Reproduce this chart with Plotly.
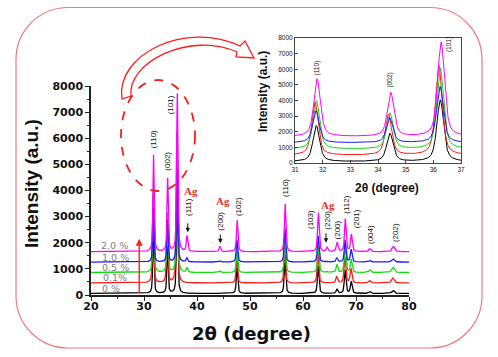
import numpy as np
import plotly.graph_objects as go

W, H = 498, 357

# ---------------- data ----------------
series_names = ["0 %", "0.1%", "0.5 %", "1.0 %", "2.0 %"]
series_colors = ["#000000", "#ff1a1a", "#14d914", "#1a1aff", "#ff00ff"]
baseline_offsets = [60, 460, 860, 1260, 1660]
series_shift = [0.0, -0.05, 0.0, -0.01, 0.03]

peak_positions = [31.77, 34.43, 36.25, 38.1, 44.3, 47.55, 56.6, 62.87, 64.5, 66.4, 67.95, 69.1, 72.6, 77.0]
peak_fwhm = [0.28, 0.28, 0.29, 0.32, 0.35, 0.32, 0.33, 0.35, 0.38, 0.38, 0.36, 0.38, 0.45, 0.55]
peak_heights = {
    "0 %":   [2300, 1800, 3950,   0,   0, 1030, 1300, 1050,   0, 150,  900, 450,  70, 120],
    "0.1%":  [3400, 2600, 5750,   0,   0, 1000, 1400, 1150,   0, 250, 1000, 550, 100, 190],
    "0.5 %": [3100, 2300, 5200, 180,  60,  900, 1300, 1050,  40, 300, 1000, 500, 100, 200],
    "1.0 %": [2050, 1600, 3600, 150,  50,  850, 1290, 1000,  30, 150,  850, 480,  60, 120],
    "2.0 %": [3700, 2800, 6050, 600, 200, 1210, 1840, 1490, 160, 350, 1250, 650, 110, 200],
}

main_peak_labels = [
    ("(110)", 31.75, 5970), ("(002)", 34.47, 5130), ("(101)", 34.95, 7270),
    ("(111)", 38.36, 3380), ("(200)", 44.53, 2806), ("(102)", 47.8, 3380),
    ("(110)", 56.74, 4083), ("(103)", 61.32, 2870), ("(220)", 64.46, 2870),
    ("(200)", 66.5, 2488), ("(112)", 68.06, 3445), ("(201)", 70.0, 2897),
    ("(004)", 72.64, 2335), ("(202)", 77.5, 2399),
]
ag_labels = [(38.81, 3981), (44.85, 3598), (64.65, 3445)]
ag_arrows = [(38.25, 2800, 2400), (44.4, 2373, 1979), (64.34, 2423, 2002)]
pct_labels = [("2.0 %", 24.4, 1887), ("1.0 %", 24.7, 1443), ("0.5 %", 24.7, 1045),
              ("0.1%", 24.5, 663), ("0 %", 23.8, 256)]
inset_peak_labels = [("(110)", 31.8, 6060), ("(002)", 34.45, 5312), ("(101)", 36.57, 7552)]


def profile(x, heights, shift, eta=0.6):
    y = np.zeros_like(x)
    for c, h, w in zip(peak_positions, heights, peak_fwhm):
        d = (x - c - shift) / w
        y += h * (eta / (1 + 4 * d ** 2) + (1 - eta) * np.exp(-4 * np.log(2) * d ** 2))
    return y


def P(px, py):
    return f"{px / W:.5f},{1 - py / H:.5f}"


fig = go.Figure()

x_main = np.arange(20, 80.0001, 0.02)
x_in = np.arange(31, 37.0001, 0.01)
for name, col, off, sh in zip(series_names, series_colors, baseline_offsets, series_shift):
    hts = peak_heights[name]
    fig.add_trace(go.Scatter(x=x_main, y=profile(x_main, hts, sh) + off, mode="lines",
                             line=dict(color=col, width=1.3), name=name,
                             xaxis="x", yaxis="y", showlegend=False))
    fig.add_trace(go.Scatter(x=x_in, y=profile(x_in, hts, sh) + off + 30, mode="lines",
                             line=dict(color=col, width=1), name=name,
                             xaxis="x2", yaxis="y2", showlegend=False))

ann = []
C = dict(xanchor="center", yanchor="middle")
for t, x, y in main_peak_labels:
    ann.append(dict(x=x, y=y, xref="x", yref="y", text=t, showarrow=False, textangle=-90,
                    font=dict(family="Liberation Sans", size=8, color="#111"), **C))
for x, y in ag_labels:
    ann.append(dict(x=x, y=y, xref="x", yref="y", text="<b>Ag</b>", showarrow=False,
                    font=dict(family="Liberation Serif", size=11, color="#e8302a"), **C))
for x, y0, y1 in ag_arrows:
    ann.append(dict(x=x, y=y1, ax=x, ay=y0, xref="x", yref="y", axref="x", ayref="y",
                    text="", showarrow=True, arrowhead=2, arrowsize=0.9, arrowwidth=1,
                    arrowcolor="#111"))
for t, x, y in pct_labels:
    ann.append(dict(x=x, y=y, xref="x", yref="y", text=t, showarrow=False,
                    font=dict(family="DejaVu Sans", size=9.5, color="#808080"), **C))
# red up arrow
ann.append(dict(x=29.1, y=2150, ax=29.1, ay=30, xref="x", yref="y", axref="x", ayref="y",
                text="", showarrow=True, arrowhead=2, arrowsize=1, arrowwidth=1.4,
                arrowcolor="#ff2020"))
for t, x, y in inset_peak_labels:
    ann.append(dict(x=x, y=y, xref="x2", yref="y2", text=t, showarrow=False, textangle=-90,
                    font=dict(family="Liberation Sans", size=6.5, color="#111"), **C))
# axis titles
ann.append(dict(x=32 / W, y=1 - 184 / H, xref="paper", yref="paper", text="<b>Intensity (a.u.)</b>",
                showarrow=False, textangle=-90, font=dict(family="Liberation Sans", size=19, color="#111"), **C))
ann.append(dict(x=252 / W, y=1 - 333 / H, xref="paper", yref="paper", text="<b>2θ (degree)</b>",
                showarrow=False, font=dict(family="DejaVu Sans", size=18, color="#111"), **C))
ann.append(dict(x=263 / W, y=1 - 92 / H, xref="paper", yref="paper", text="<b>Intensity (a.u.)</b>",
                showarrow=False, textangle=-90, font=dict(family="Liberation Sans", size=12, color="#111"), **C))
ann.append(dict(x=387 / W, y=1 - 188 / H, xref="paper", yref="paper", text="<b>2θ (degree)</b>",
                showarrow=False, font=dict(family="Liberation Sans", size=12, color="#111"), **C))

# decorative shapes
def rrect(l, t, r, b, rad):
    k = 0.5523 * rad
    return ("M" + P(l + rad, t) + " L" + P(r - rad, t) +
            " C" + P(r - rad + k, t) + " " + P(r, t + rad - k) + " " + P(r, t + rad) +
            " L" + P(r, b - rad) +
            " C" + P(r, b - rad + k) + " " + P(r - rad + k, b) + " " + P(r - rad, b) +
            " L" + P(l + rad, b) +
            " C" + P(l + rad - k, b) + " " + P(l, b - rad + k) + " " + P(l, b - rad) +
            " L" + P(l, t + rad) +
            " C" + P(l, t + rad - k) + " " + P(l + rad - k, t) + " " + P(l + rad, t) + " Z")

arrow_path = ("M" + P(122, 99) + " C" + P(115, 55) + " " + P(185, 20) + " " + P(240, 46) +
              " L" + P(245, 41) + " L" + P(254, 58) + " L" + P(236, 57) + " L" + P(237, 52) +
              " C" + P(190, 31) + " " + P(127, 62) + " " + P(131, 96) + " Z")

shapes = [
    dict(type="path", xref="paper", yref="paper", path=rrect(16, 7.5, 482, 348, 52),
         line=dict(color="#f27b7b", width=1.2)),
    dict(type="circle", xref="paper", yref="paper", x0=121 / W, x1=195 / W,
         y0=1 - 191 / H, y1=1 - 80 / H, line=dict(color="#ee2222", width=1.8, dash="dash")),
    dict(type="path", xref="paper", yref="paper", path=arrow_path,
         line=dict(color="#ff1a1a", width=1.3)),
]

tick_main = dict(family="DejaVu Sans", size=11, color="#111", weight="bold")
tick_in = dict(family="Liberation Sans", size=6.5, color="#111")

fig.update_layout(
    width=W, height=H, margin=dict(l=0, r=0, t=0, b=0, autoexpand=False),
    paper_bgcolor="white", plot_bgcolor="rgba(0,0,0,0)",
    showlegend=False, annotations=ann, shapes=shapes,
    xaxis=dict(domain=[91 / W, 409 / W], range=[20, 80], dtick=10, tick0=20, automargin=False,
               showline=True, linecolor="#222", linewidth=1.5, ticks="outside", ticklen=4,
               ticklabelstandoff=-4,
               tickcolor="#222", minor=dict(dtick=5, ticks="outside", ticklen=2, tickcolor="#222"),
               showgrid=False, zeroline=False, tickfont=tick_main, anchor="y"),
    yaxis=dict(domain=[1 - 295 / H, 1 - 86 / H], range=[0, 8000], dtick=1000, automargin=False,
               showline=True, linecolor="#222", linewidth=1.5, ticks="outside", ticklen=4,
               tickcolor="#222", minor=dict(dtick=500, ticks="outside", ticklen=2, tickcolor="#222"),
               showgrid=False, zeroline=False, tickfont=tick_main, anchor="x"),
    xaxis2=dict(domain=[295 / W, 461 / W], range=[31, 37], dtick=1, automargin=False,
                showline=True, mirror=True, linecolor="#444", linewidth=1, ticks="inside",
                ticklen=3, tickcolor="#444", showgrid=False, zeroline=False,
                tickfont=tick_in, anchor="y2"),
    yaxis2=dict(domain=[1 - 163 / H, 1 - 38 / H], range=[0, 8000], dtick=1000, automargin=False,
                showline=True, mirror=True, linecolor="#444", linewidth=1, ticks="inside",
                ticklen=3, tickcolor="#444", showgrid=False, zeroline=False,
                tickfont=tick_in, anchor="x2"),
)

fig.write_html("out.html", config={"displayModeBar": False},
               post_script="document.body.style.margin='0';document.body.style.overflow='hidden';")
